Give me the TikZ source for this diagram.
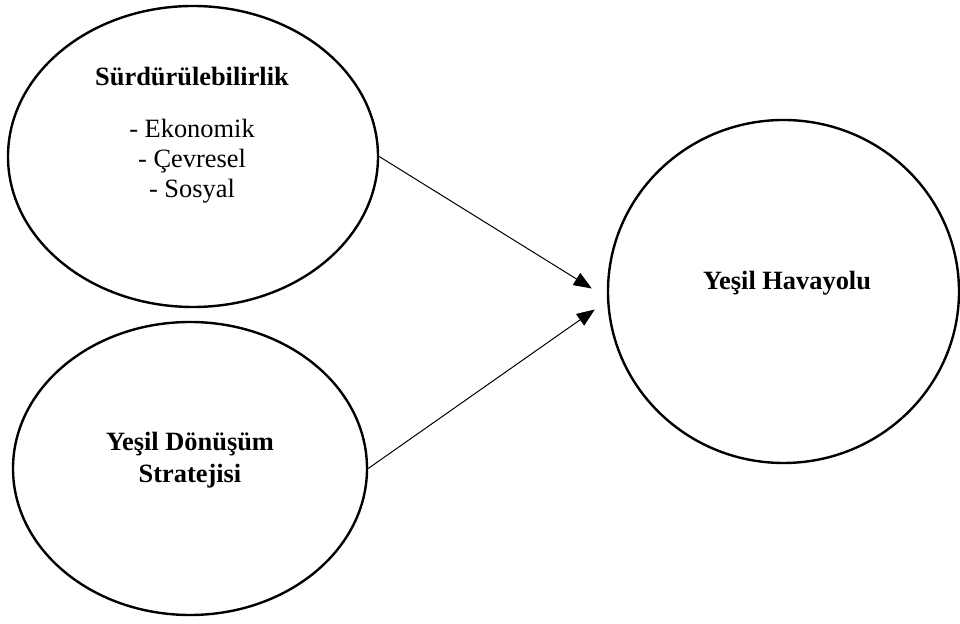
\documentclass[tikz,border=0pt]{standalone}
\usepackage{fontspec}
\setmainfont{Liberation Serif}
\usetikzlibrary{arrows.meta,shapes.geometric}

\begin{document}
\begin{tikzpicture}[x=0.5pt,y=-0.5pt,font=\fontsize{13.2}{15}\selectfont,
  blob/.style={ellipse,draw,line width=1.2pt,inner sep=0pt},
  link/.style={line width=0.5pt,-{Triangle[length=9pt,width=7pt]}}]
  \useasboundingbox (0,0) rectangle (960,624);
  \node[blob,minimum width=185pt,minimum height=150.5pt] (surd) at (193,156.5) {};
  \node[blob,minimum width=177pt,minimum height=146.5pt] (donus) at (190,468.5) {};
  \node[blob,minimum width=175.5pt,minimum height=171.5pt] (hav) at (783.5,291.5) {};
  \node[anchor=base,font=\fontsize{13.2}{15}\selectfont\bfseries] (surdT) at (192,86) {Sürdürülebilirlik};
  \node[anchor=base,align=center] (boyut) at (192,198) {- Ekonomik\\- Çevresel\\- Sosyal};
  \node[anchor=base,align=center,font=\fontsize{13.2}{16}\selectfont\bfseries] (donusT) at (190,483) {Yeşil Dönüşüm\\Stratejisi};
  \node[anchor=base,font=\fontsize{13.2}{15}\selectfont\bfseries] (havT) at (787,290) {Yeşil Havayolu};
  \draw[link] (surd.east) -- ([shift={(-15,-3)}]hav.west);
  \draw[link] (donus.east) -- ([shift={(-12,18)}]hav.west);
\end{tikzpicture}
\end{document}
